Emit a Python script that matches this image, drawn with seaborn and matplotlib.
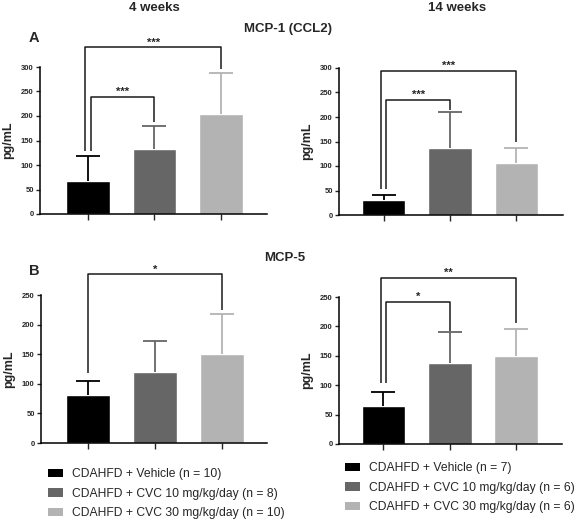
import numpy as np
import pandas as pd
import matplotlib
matplotlib.use("Agg")
import matplotlib.pyplot as plt
from matplotlib.patches import Patch
import seaborn as sns

# Groups and colours
groups = ["CDAHFD + Vehicle", "CDAHFD + CVC 10 mg/kg/day", "CDAHFD + CVC 30 mg/kg/day"]
colors = ["#000000", "#666666", "#b3b3b3"]
n_4wk = [10, 8, 10]
n_14wk = [7, 6, 6]

# MCP-1 (CCL2), pg/mL (mean and upper error)
mcp1_4wk = [67, 133, 205]
mcp1_4wk_err = [52, 46, 83]
mcp1_14wk = [30, 136, 107]
mcp1_14wk_err = [11, 74, 30]

# MCP-5, pg/mL
mcp5_4wk = [81, 120, 150]
mcp5_4wk_err = [24, 53, 68]
mcp5_14wk = [65, 137, 149]
mcp5_14wk_err = [24, 53, 47]

# significance brackets: (i, j, bracket y, left leg end, right leg end, label)
sig_mcp1_4wk = [(0, 2, 340, 128, 296, "***"), (0, 1, 239, 128, 187, "***")]
sig_mcp1_14wk = [(0, 2, 294, 54, 149, "***"), (0, 1, 235, 54, 214, "***")]
sig_mcp5_4wk = [(0, 2, 285, 118, 225, "*")]
sig_mcp5_14wk = [(0, 2, 283, 103, 206, "**"), (0, 1, 242, 103, 193, "*")]

sns.set_style("ticks")
plt.rcParams["font.family"] = ["Liberation Sans", "DejaVu Sans"]

W, H = 579, 520
fig = plt.figure(figsize=(W / 100, H / 100), dpi=100)


def px_axes(x0, x1, ytop, ybot):
    return fig.add_axes([x0 / W, 1 - ybot / H, (x1 - x0) / W, (ybot - ytop) / H])


panels = [
    (mcp1_4wk, mcp1_4wk_err, sig_mcp1_4wk, (40, 267, 67, 214), 300, (-0.72, 2.69)),
    (mcp1_14wk, mcp1_14wk_err, sig_mcp1_14wk, (339, 563, 68, 215), 300, (-0.67, 2.70)),
    (mcp5_4wk, mcp5_4wk_err, sig_mcp5_4wk, (41, 267, 295, 443), 250, (-0.71, 2.68)),
    (mcp5_14wk, mcp5_14wk_err, sig_mcp5_14wk, (339, 562, 297, 444), 250, (-0.67, 2.69)),
]

for means, errs, sigs, rect, ymax, xlim in panels:
    ax = px_axes(*rect)
    df = pd.DataFrame({"group": groups, "value": means})
    sns.barplot(data=df, x="group", y="value", hue="group", palette=colors,
                saturation=1, width=0.66, legend=False, ax=ax)
    for i in range(3):
        _, caps, _ = ax.errorbar(i, means[i], yerr=[[0], [errs[i]]], fmt="none",
                                 ecolor=colors[i], elinewidth=1.3, capsize=8.5,
                                 capthick=1.3, zorder=1)
        caps[0].set_visible(False)
    ax.set_xlim(*xlim)
    ax.set_ylim(0, ymax)
    ax.set_yticks(np.arange(0, ymax + 1, 50))
    ax.set_xticks([0, 1, 2])
    ax.set_xticklabels([])
    ax.set_xlabel("")
    ax.set_ylabel("pg/mL", fontsize=9, fontweight="bold")
    x0, x1 = rect[0], rect[1]
    ax.yaxis.set_label_coords(-26 / (x1 - x0), 0.5)
    ax.tick_params(axis="y", labelsize=5.5, length=3, width=1, pad=1.5)
    ax.tick_params(axis="x", length=4, width=1)
    for lab in ax.get_yticklabels():
        lab.set_fontweight("bold")
    sns.despine(ax=ax)
    for sp in ["left", "bottom"]:
        ax.spines[sp].set_linewidth(1.1)
        ax.spines[sp].set_color("black")

    two = len(sigs) > 1
    for k, (i, j, yb, yl, yr, lab) in enumerate(sigs):
        off = 0 if not two else (-0.04 if k == 0 else 0.04)
        xi = i + off
        ax.plot([xi, xi, j, j], [yl, yb, yb, yr], color="#1a1a1a", lw=1.1,
                clip_on=False, solid_capstyle="butt")
        ax.text((xi + j) / 2, yb + ymax * 0.012, lab, ha="center", va="baseline",
                fontsize=8, fontweight="bold", clip_on=False)

# headings
fig.text(154 / W, 1 - 8 / H, "4 weeks", ha="center", va="center", fontsize=9.5, fontweight="bold")
fig.text(457 / W, 1 - 8 / H, "14 weeks", ha="center", va="center", fontsize=9.5, fontweight="bold")
fig.text(288 / W, 1 - 29 / H, "MCP-1 (CCL2)", ha="center", va="center", fontsize=9.5, fontweight="bold")
fig.text(285 / W, 1 - 258 / H, "MCP-5", ha="center", va="center", fontsize=9.5, fontweight="bold")
fig.text(34 / W, 1 - 38 / H, "A", ha="center", va="center", fontsize=10.5, fontweight="bold")
fig.text(34 / W, 1 - 271 / H, "B", ha="center", va="center", fontsize=10.5, fontweight="bold")

# legends
for ns, (lx, ly) in [(n_4wk, (48, 468)), (n_14wk, (345, 462))]:
    handles = [Patch(facecolor=c, edgecolor="none") for c in colors]
    labels = [f"{g} (n = {n})" for g, n in zip(groups, ns)]
    fig.legend(handles, labels, loc="upper left", bbox_to_anchor=(lx / W, 1 - ly / H),
               frameon=False, fontsize=8.7, handlelength=1.25, handleheight=0.66,
               handletextpad=0.75, labelspacing=0.64, borderpad=0, borderaxespad=0)

fig.savefig("out.png", dpi=100)
